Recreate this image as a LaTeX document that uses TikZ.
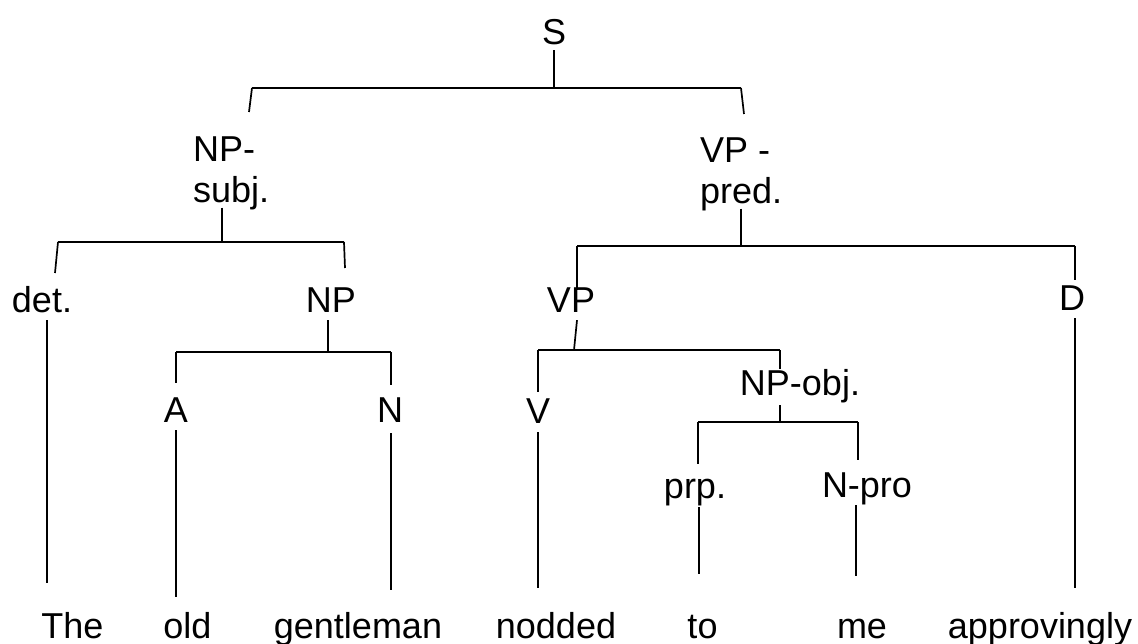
\documentclass[tikz,border=0pt]{standalone}
\usepackage{fontspec}
\setmainfont{Liberation Sans}
\begin{document}
\begin{tikzpicture}[x=1pt,y=-1pt,
  every node/.style={inner sep=0pt, font=\fontsize{36}{41}\selectfont},
  lab/.style={anchor=base, text height=26pt, text depth=0pt},
  lab2/.style={anchor=base west, align=left},
  ln/.style={line width=1.7pt}]
\useasboundingbox (0,0) rectangle (1138,644);
% labels
\node[lab] (S) at (554,45) {S};
\node[lab2] (subj) at (193,203) {NP-\\subj.};
\node[lab2] (pred) at (700,204) {VP -\\pred.};
\node[lab] (det) at (42,313) {det.};
\node[lab] (np) at (331,313) {NP};
\node[lab] (vp) at (571,313) {VP};
\node[lab] (d) at (1072,311) {D};
\node[lab] (a) at (176,422) {A};
\node[lab] (n) at (390,422) {N};
\node[lab] (v) at (538,423) {V};
\node[lab] (obj) at (800,395) {NP-obj.};
\node[lab] (prp) at (695,498) {prp.};
\node[lab] (npro) at (867,497) {N-pro};
% words
\node[lab] (w1) at (72.5,638) {The};
\node[lab] (w2) at (187.5,638) {old};
\node[lab] (w3) at (358,638) {gentleman};
\node[lab] (w4) at (556,638) {nodded};
\node[lab] (w5) at (702.5,638) {to};
\node[lab] (w6) at (862,638) {me};
\node[lab] (w7) at (1040,638) {approvingly};
% junction coordinates
\coordinate (sJ) at (554,88);
\coordinate (sL) at (252,88);
\coordinate (sR) at (741,88);
\coordinate (sLe) at (249,112);
\coordinate (sRe) at (744,114);
\coordinate (bJ) at (222,242);
\coordinate (bL) at (58,242);
\coordinate (bR) at (344,242);
\coordinate (bLe) at (55,273);
\coordinate (bRe) at (345,268);
\coordinate (npJ) at (328,352);
\coordinate (aJ) at (176,352);
\coordinate (nJ) at (391,352);
\coordinate (pJ) at (741,246);
\coordinate (vJ) at (577,246);
\coordinate (dJ) at (1075,246);
\coordinate (vpJ) at (574,350);
\coordinate (vbJ) at (538,350);
\coordinate (oJ) at (780,350);
\coordinate (oJ2) at (780,422);
\coordinate (prJ) at (698,422);
\coordinate (nrJ) at (858,422);
\coordinate (xdet) at (47,0);
\coordinate (xprp) at (699,0);
\coordinate (xnpro) at (856,0);
% S
\draw[ln, shorten <=5pt] (S.south) -- (S.south |- sJ);
\draw[ln] (sL) -- (sR);
\draw[ln] (sL) -- (sLe);
\draw[ln] (sR) -- (sRe);
% NP-subj
\draw[ln, shorten <=-3pt] (subj.south -| bJ) -- (bJ);
\draw[ln] (bL) -- (bR);
\draw[ln] (bL) -- (bLe);
\draw[ln] (bR) -- (bRe);
\draw[ln, shorten <=7pt, shorten >=29pt] (det.south -| xdet) -- (w1.north -| xdet);
% NP
\draw[ln, shorten <=7pt] (np.south -| npJ) -- (npJ);
\draw[ln] (aJ) -- (nJ);
\draw[ln, shorten >=13pt] (aJ) -- (aJ |- a.north);
\draw[ln, shorten >=11pt] (nJ) -- (nJ |- n.north);
\draw[ln, shorten <=8pt, shorten >=15pt] (a.south -| aJ) -- (w2.north -| aJ);
\draw[ln, shorten <=11pt, shorten >=22pt] (n.south -| nJ) -- (w3.north -| nJ);
% VP-pred
\draw[ln, shorten <=-3pt] (pred.south -| pJ) -- (pJ);
\draw[ln] (vJ) -- (dJ);
\draw[ln, shorten >=-3pt] (vJ) -- (vJ |- vp.north);
\draw[ln, shorten >=5pt] (dJ) -- (dJ |- d.north);
\draw[ln, shorten <=7pt, shorten >=24pt] (d.south -| dJ) -- (w7.north -| dJ);
% VP
\draw[ln] ([xshift=6pt,yshift=-7pt]vp.south) -- (vpJ);
\draw[ln] (vbJ) -- (oJ);
\draw[ln, shorten >=5pt] (vbJ) -- (vbJ |- v.north);
\draw[ln] (oJ) -- (oJ |- obj.north);
\draw[ln, shorten <=9pt, shorten >=24pt] (v.south -| vbJ) -- (w4.north -| vbJ);
% NP-obj
\draw[ln, shorten <=10pt] (obj.south -| oJ2) -- (oJ2);
\draw[ln] (prJ) -- (nrJ);
\draw[ln, shorten >=8pt] (prJ) -- (prJ |- prp.north);
\draw[ln, shorten >=11pt] (nrJ) -- (nrJ |- npro.north);
\draw[ln, shorten <=9pt, shorten >=38pt] (prp.south -| xprp) -- (w5.north -| xprp);
\draw[ln, shorten <=8pt, shorten >=36pt] (npro.south -| xnpro) -- (w6.north -| xnpro);
\end{tikzpicture}
\end{document}
